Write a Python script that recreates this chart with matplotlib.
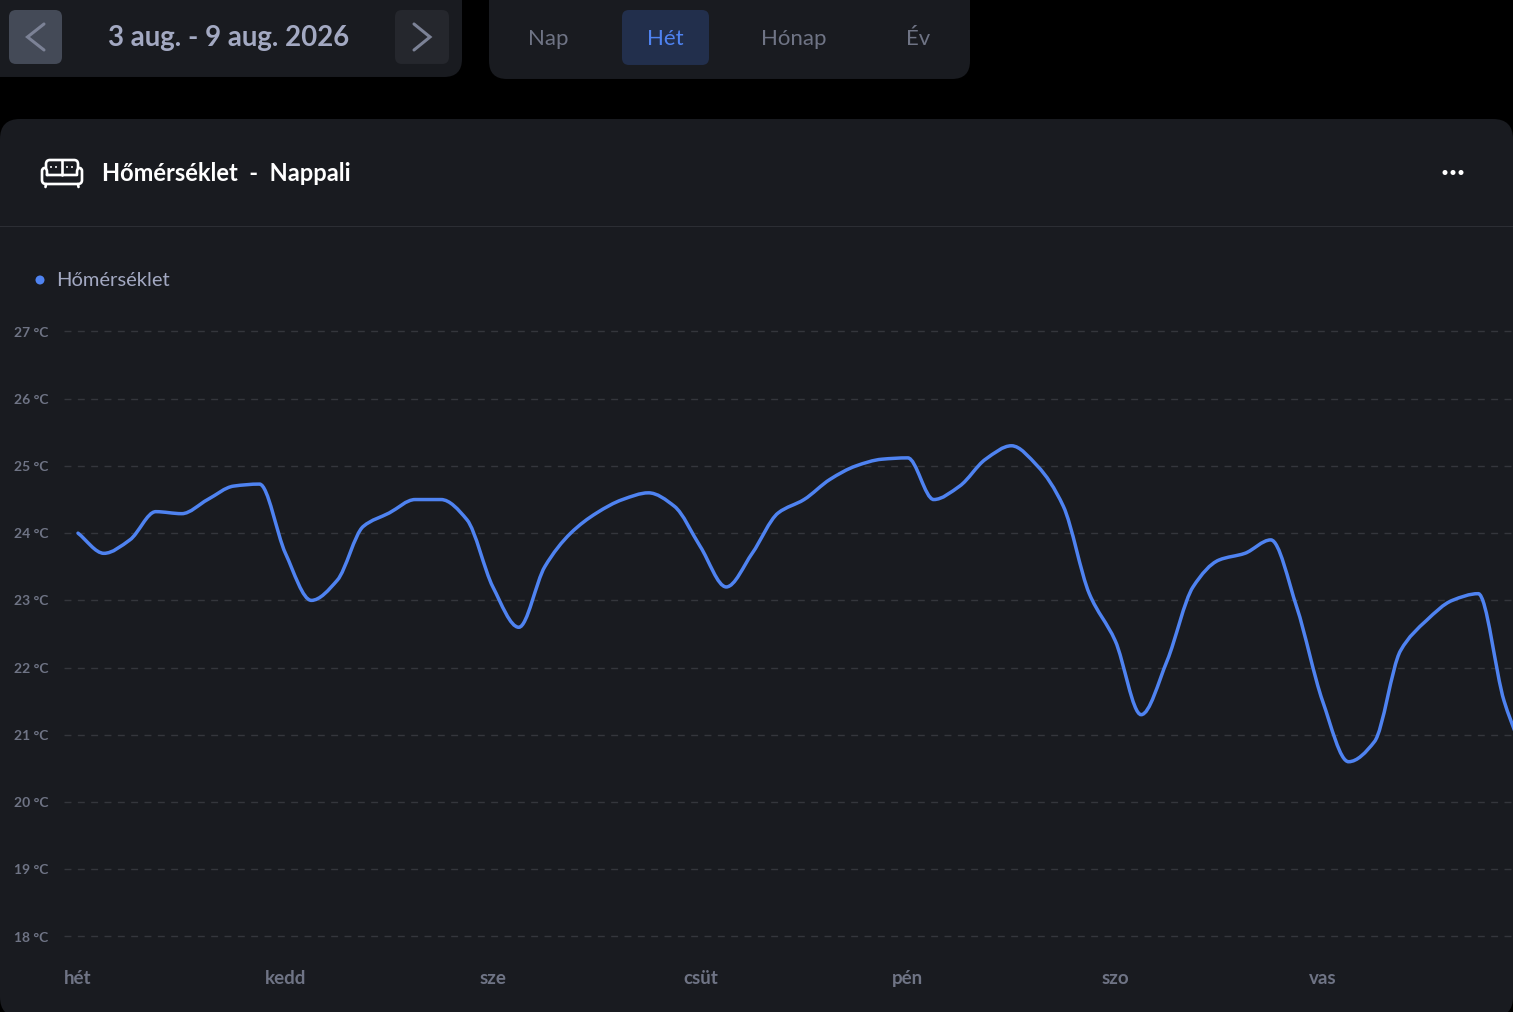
import numpy as np
import matplotlib
matplotlib.use("Agg")
import matplotlib.pyplot as plt
from matplotlib.patches import FancyBboxPatch, PathPatch, Circle, Rectangle
from matplotlib.path import Path

plt.rcParams['font.family'] = ['Lato', 'DejaVu Sans']

# one reading every 3 hours, monday 00:00 onwards
temps = [24.0, 23.7, 23.9, 24.32, 24.29, 24.5, 24.7, 24.73,
         23.7, 23.0, 23.3, 24.1, 24.3, 24.5, 24.5, 24.2,
         23.2, 22.6, 23.5, 24.0, 24.3, 24.5, 24.6, 24.4,
         23.8, 23.2, 23.7, 24.3, 24.5, 24.8, 25.0, 25.1,
         25.12, 24.5, 24.7, 25.1, 25.3, 25.0, 24.4, 23.1,
         22.4, 21.3, 22.1, 23.2, 23.6, 23.7, 23.9, 22.9,
         21.5, 20.6, 20.9, 22.25, 22.7, 23.0, 23.1, 21.5, 20.5]
hours = [3 * i for i in range(len(temps))]
days = ["hét", "kedd", "sze", "csüt", "pén", "szo", "vas"]
day_ticks = [0, 24, 48, 72, 96, 120, 144]
y_ticks = [18, 19, 20, 21, 22, 23, 24, 25, 26, 27]
ranges = ["Nap", "Hét", "Hónap", "Év"]
range_x = [548, 665, 794, 918]

W, H = 1513, 1012
BG = "#000000"
CARD = "#191b20"
BLUE = "#4f83f1"
GREY = "#6f7485"
LIGHT = "#a3a9c2"


def monotone_path(x, y):
    # same kind of curve as d3 curveMonotoneX, as bezier segments
    x = np.array(x, dtype=float)
    y = np.array(y, dtype=float)
    h = np.diff(x)
    s = np.diff(y) / h
    m = np.zeros(len(x))
    for i in range(1, len(x) - 1):
        if s[i - 1] * s[i] > 0:
            m[i] = 2 * s[i - 1] * s[i] / (s[i - 1] + s[i])
    m[0] = s[0]
    m[-1] = s[-1]
    verts = [(x[0], y[0])]
    codes = [Path.MOVETO]
    for i in range(len(h)):
        verts.append((x[i] + h[i] / 3, y[i] + m[i] * h[i] / 3))
        verts.append((x[i + 1] - h[i] / 3, y[i + 1] - m[i + 1] * h[i] / 3))
        verts.append((x[i + 1], y[i + 1]))
        codes += [Path.CURVE4] * 3
    return Path(verts, codes)


def box(ax, x0, y0, x1, y1, r, color):
    ax.add_patch(FancyBboxPatch((x0 + r, y0 + r), x1 - x0 - 2 * r, y1 - y0 - 2 * r,
                                boxstyle="round,pad=%f,rounding_size=%f" % (r, r),
                                fc=color, ec="none"))


# the .01 stops the pixel size being floored to 1011
fig = plt.figure(figsize=((W + 0.01) / 100, (H + 0.01) / 100), dpi=100, facecolor=BG)

# page furniture in pixel coordinates
bg = fig.add_axes([0, 0, 1, 1])
bg.set_xlim(0, W)
bg.set_ylim(H, 0)
bg.axis("off")

box(bg, -20, -30, 462, 77, 18, CARD)
box(bg, 489, -30, 970, 79, 18, CARD)
box(bg, 9, 10, 62, 64, 7, "#444a57")
box(bg, 395, 10, 449, 64, 7, "#25272d")
box(bg, 622, 10, 709, 65, 7, "#222f4c")
box(bg, 0, 119, W, 1017, 20, CARD)

bg.plot([44, 27.5, 44], [24, 37, 50], color="#7c8296", lw=2.2, solid_capstyle="round", solid_joinstyle="miter")
bg.plot([414, 430, 414], [24, 37, 50], color="#7c8296", lw=2.2, solid_capstyle="round", solid_joinstyle="miter")
bg.text(228.5, 38, "3 aug. - 9 aug. 2026", color=LIGHT, fontsize=19.9, ha="center", va="center", weight="bold")

for name, x in zip(ranges, range_x):
    bg.text(x, 38.5, name, color=BLUE if name == "Hét" else GREY, fontsize=16, ha="center", va="center")

# sofa icon
C3 = Path.CURVE3
L = Path.LINETO
M = Path.MOVETO
base = Path([(47, 175), (47, 172), (47, 168), (44.5, 168), (42, 168), (42, 171), (42, 180),
             (42, 184), (46, 184), (78, 184), (82, 184), (82, 180), (82, 171), (82, 168),
             (79.5, 168), (77, 168), (77, 172), (77, 175), (47, 175)],
            [M, L, C3, C3, C3, C3, L, C3, C3, L, C3, C3, L, C3, C3, C3, C3, L, L])
back = Path([(46, 168), (46, 164), (46, 160), (50, 160), (74, 160), (78, 160), (78, 164), (78, 168)],
            [M, L, C3, C3, L, C3, C3, L])
for p in [base, back]:
    bg.add_patch(PathPatch(p, fc="none", ec="white", lw=1.9, capstyle="round", joinstyle="round"))
sofa = dict(color="white", lw=1.9, solid_capstyle="round")
bg.plot([62, 62], [160, 175], **sofa)
bg.plot([46, 45.5], [184, 187], **sofa)
bg.plot([78, 78.5], [184, 187], **sofa)
for x in [51, 56, 67, 72]:
    bg.add_patch(Circle((x, 167), 1.0, fc="white", ec="none"))

bg.text(102, 173.5, "Hőmérséklet  -  Nappali", color="white", fontsize=17, ha="left", va="center", weight="bold")
for x in [1445, 1453, 1461]:
    bg.add_patch(Circle((x, 172.5), 2.5, fc="white", ec="none"))

bg.add_patch(Rectangle((0, 226), W, 1, fc="#2c2e34", ec="none"))
bg.add_patch(Circle((40, 280), 4.5, fc=BLUE, ec="none"))
bg.text(56.5, 280.5, "Hőmérséklet", color=LIGHT, fontsize=14.5, ha="left", va="center")

# chart, axes box placed so 27 C sits at y=332 and 18 C at y=937
top, bottom, left = 310, 960, 64
ax = fig.add_axes([left / W, 1 - bottom / H, (W - left) / W, (bottom - top) / H])
ax.patch.set_alpha(0)
px_per_deg = (937 - 332) / 9
px_per_hour = 25.93 / 3
ax.set_ylim(18 - (bottom - 936.5) / px_per_deg, 27 + (331.5 - top) / px_per_deg)
ax.set_xlim((left - 78) / px_per_hour, (W - 78) / px_per_hour)

for s in ax.spines.values():
    s.set_visible(False)

ax.set_yticks(y_ticks)
ax.set_yticklabels(["%d °C" % t for t in y_ticks], color=GREY, fontsize=10, weight="bold")
ax.set_xticks(day_ticks)
ax.set_xticklabels(days, color=GREY, fontsize=13.5, weight="bold")
ax.tick_params(axis="both", length=0)
ax.tick_params(axis="y", pad=11.5)
ax.tick_params(axis="x", pad=7.5)
ax.grid(axis="y", color="#34363c", lw=1.0, linestyle=(0, (5.0, 4.6)))
ax.set_axisbelow(True)

ax.add_patch(PathPatch(monotone_path(hours, temps), fc="none", ec=BLUE, lw=2.5, capstyle="round"))

fig.savefig("out.png", dpi=100, facecolor=BG)
